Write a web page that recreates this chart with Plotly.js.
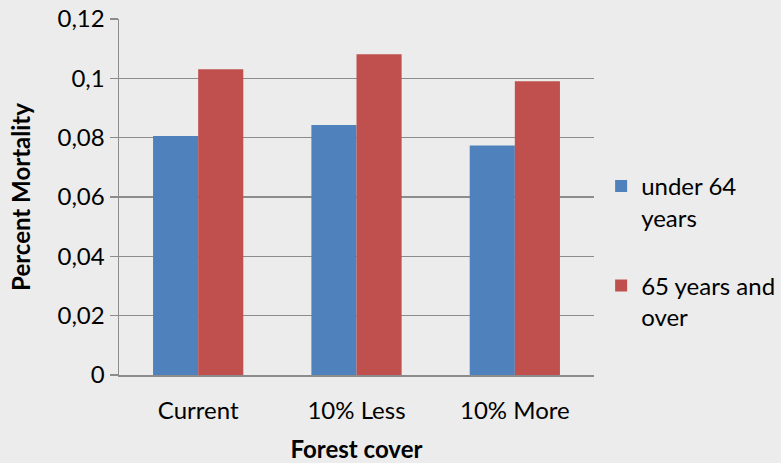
<!DOCTYPE html>
<html>
<head>
<meta charset="utf-8">
<script src="https://cdn.plot.ly/plotly-3.0.1.min.js"></script>
<style>html,body{margin:0;padding:0;background:#ececec;}</style>
</head>
<body>
<div id="chart" style="width:781px;height:463px;"></div>
<script>
var categories = ["Current", "10% Less", "10% More"];
var under64 = [0.0806, 0.0843, 0.0774];
var over65 = [0.1031, 0.1081, 0.099];
var seriesNames = ["under 64<br>years", "65 years and<br>over"];
var yTickVals = [0, 0.02, 0.04, 0.06, 0.08, 0.1, 0.12];
var yTickText = ["0", "0,02", "0,04", "0,06", "0,08", "0,1", "0,12"];

var font = "Lato, 'Open Sans', sans-serif";
var data = [
  {type: "bar", x: categories, y: under64, name: seriesNames[0], legendgroup: "a",
   marker: {color: "#4F81BD", line: {width: 0}}},
  {type: "bar", x: categories, y: over65, name: seriesNames[1], legendgroup: "b",
   marker: {color: "#C0504D", line: {width: 0}}}
];
var layout = {
  width: 781, height: 463,
  paper_bgcolor: "#ececec", plot_bgcolor: "rgba(0,0,0,0)",
  margin: {l: 119, r: 187, t: 19, b: 88, autoexpand: false},
  font: {family: font, size: 24, color: "#000"},
  barmode: "group", bargap: 0.43, bargroupgap: 0,
  showlegend: true,
  legend: {x: 1.015, xanchor: "left", y: 0.593, yanchor: "top", bgcolor: "rgba(0,0,0,0)",
           valign: "top", traceorder: "grouped", tracegroupgap: 34,
           font: {family: font, size: 24, color: "#000"}},
  xaxis: {
    title: {text: "<b>Forest cover</b>", font: {family: font, size: 24}, standoff: 18},
    showline: true, linecolor: "#8c8c8c", linewidth: 1.5, ticks: "", showgrid: false,
    ticklabelstandoff: 14, automargin: false,
    tickfont: {family: font, size: 24}
  },
  yaxis: {
    title: {text: "<b>Percent Mortality</b>", font: {family: font, size: 24}, standoff: 20},
    range: [0, 0.12], tickvals: yTickVals, ticktext: yTickText,
    showline: true, linecolor: "#8c8c8c", linewidth: 1.5, automargin: false,
    ticks: "outside", ticklen: 8, tickcolor: "#8c8c8c", tickwidth: 1.5,
    showgrid: true, gridcolor: "#8c8c8c", gridwidth: 1.5, zeroline: false,
    tickfont: {family: font, size: 24}
  }
};
Plotly.newPlot("chart", data, layout, {displayModeBar: false, staticPlot: true});
</script>
</body>
</html>
